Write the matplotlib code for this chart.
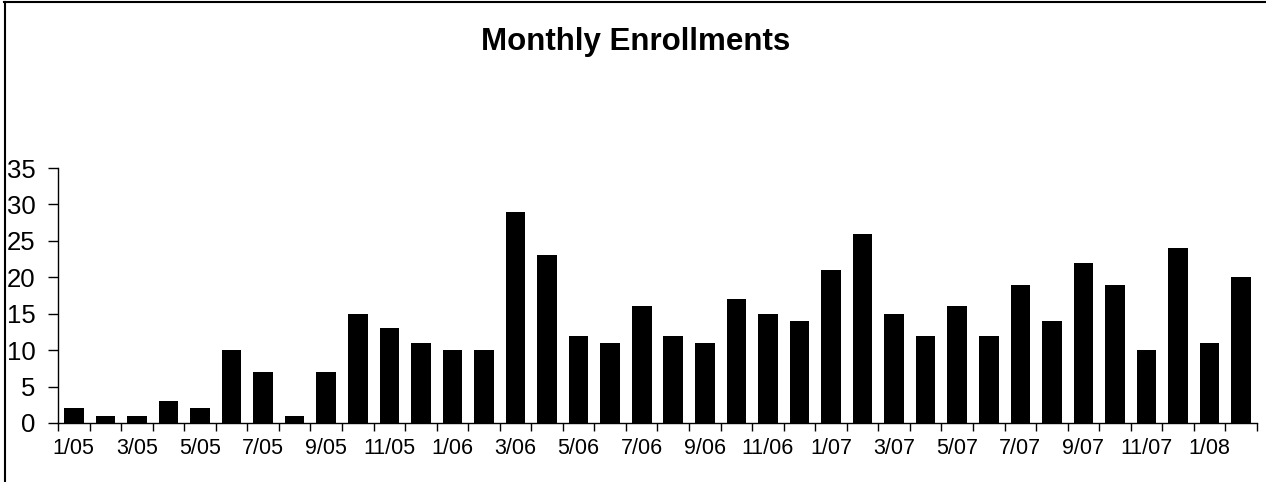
import matplotlib
matplotlib.use("Agg")
import matplotlib.pyplot as plt
from matplotlib.lines import Line2D

# monthly enrollment counts, 1/05 .. 2/08
months = ["1/05", "2/05", "3/05", "4/05", "5/05", "6/05", "7/05", "8/05", "9/05", "10/05", "11/05", "12/05",
          "1/06", "2/06", "3/06", "4/06", "5/06", "6/06", "7/06", "8/06", "9/06", "10/06", "11/06", "12/06",
          "1/07", "2/07", "3/07", "4/07", "5/07", "6/07", "7/07", "8/07", "9/07", "10/07", "11/07", "12/07",
          "1/08", "2/08"]
enrollments = [2, 1, 1, 3, 2, 10, 7, 1, 7, 15, 13, 11,
               10, 10, 29, 23, 12, 11, 16, 12, 11, 17, 15, 14,
               21, 26, 15, 12, 16, 12, 19, 14, 22, 19, 10, 24,
               11, 20]
yticks = [0, 5, 10, 15, 20, 25, 30, 35]

plt.rcParams['font.family'] = ['Liberation Sans', 'DejaVu Sans']

W, H = 1266, 482
fig = plt.figure(figsize=(W / 100, H / 100), dpi=100)
ax = fig.add_axes([58 / W, 1 - 423 / H, (1257 - 58) / W, (423 - 168) / H])

x = list(range(len(months)))
ax.bar(x, enrollments, width=0.62, color="black")

ax.set_xlim(-0.5, len(months) - 0.5)
ax.set_ylim(0, 35)
ax.set_yticks(yticks)
ax.tick_params(axis='y', direction='out', length=7, width=1, labelsize=18.5, pad=9)

# tick marks at category boundaries, labels on every other month
ax.set_xticks([i - 0.5 for i in range(len(months) + 1)])
ax.set_xticklabels([])
ax.set_xticks(x[::2], minor=True)
ax.set_xticklabels(months[::2], minor=True)
ax.tick_params(axis='x', which='major', direction='out', length=6, width=1)
ax.tick_params(axis='x', which='minor', length=0, labelsize=15.5, pad=11)

for s in ["top", "right"]:
    ax.spines[s].set_visible(False)
for s in ["left", "bottom"]:
    ax.spines[s].set_linewidth(1)

fig.text(636 / W, 1 - 42 / H, "Monthly Enrollments", ha="center", va="center",
         fontsize=22.5, fontweight="bold")

# outer chart frame (top and left edges visible)
fig.add_artist(Line2D([4 / W, 1], [1 - 1.5 / H, 1 - 1.5 / H], color="black", lw=1.5, transform=fig.transFigure))
fig.add_artist(Line2D([4.5 / W, 4.5 / W], [0, 1 - 1.5 / H], color="black", lw=1.5, transform=fig.transFigure))

fig.savefig("out.png", dpi=100)
